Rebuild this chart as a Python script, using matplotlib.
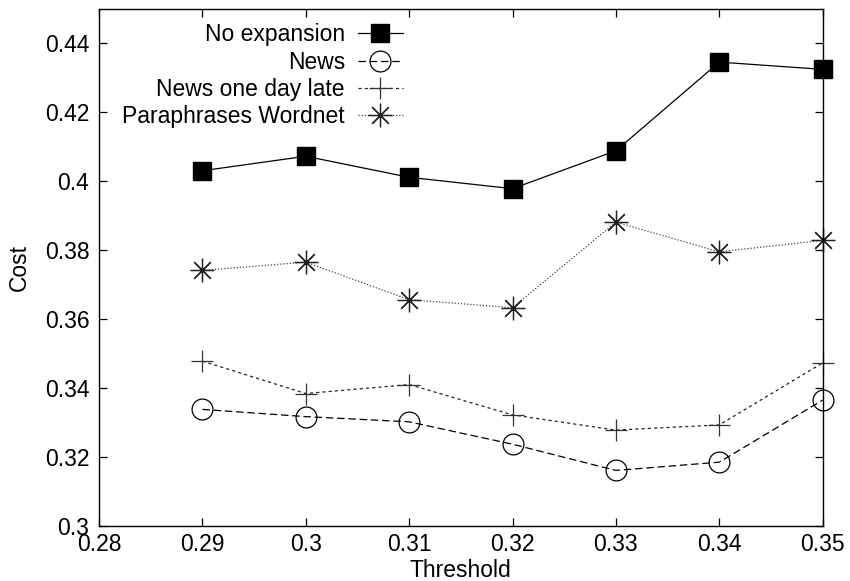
import matplotlib
matplotlib.use("Agg")
import matplotlib.pyplot as plt

plt.rcParams['font.family'] = ['Liberation Sans', 'DejaVu Sans']

thresholds = [0.29, 0.30, 0.31, 0.32, 0.33, 0.34, 0.35]
no_expansion = [0.4031, 0.4073, 0.4012, 0.3979, 0.4089, 0.4346, 0.4325]
news = [0.3339, 0.3318, 0.3303, 0.3238, 0.3162, 0.3186, 0.3366]
news_late = [0.3479, 0.3385, 0.3411, 0.3323, 0.3279, 0.3294, 0.3474]
paraphrases = [0.3742, 0.3766, 0.3657, 0.3634, 0.3882, 0.3796, 0.3829]

xticks = [0.28, 0.29, 0.30, 0.31, 0.32, 0.33, 0.34, 0.35]
xticklabels = ['0.28', '0.29', '0.3', '0.31', '0.32', '0.33', '0.34', '0.35']
yticks = [0.30, 0.32, 0.34, 0.36, 0.38, 0.40, 0.42, 0.44]
yticklabels = ['0.3', '0.32', '0.34', '0.36', '0.38', '0.4', '0.42', '0.44']

FS = 16.5

fig = plt.figure(figsize=(8.5, 5.81), dpi=100)
ax = fig.add_axes([99/850, 54.7/581, 723.7/850, 517.3/581])

ax.plot(thresholds, no_expansion, color='black', lw=0.9, ls='-',
        marker='s', markersize=13, markerfacecolor='black', markeredgecolor='black',
        label='No expansion', clip_on=False)
ax.plot(thresholds, news, color='black', lw=0.9, ls=(0, (6, 3)),
        marker='o', markersize=15, markerfacecolor='none', markeredgecolor='black',
        markeredgewidth=0.9, label='News', clip_on=False)
ax.plot(thresholds, news_late, color='#222222', lw=0.9, ls=(0, (2.5, 2.5)),
        marker='+', markersize=16, markeredgecolor='#333333', markeredgewidth=0.9,
        label='News one day late', clip_on=False)
ax.plot(thresholds, paraphrases, color='#444444', lw=0.9, ls=(0, (1, 1.5)),
        marker=(8, 2, 0), markersize=17, markeredgecolor='#222222', markeredgewidth=0.9,
        label='Paraphrases Wordnet', clip_on=False)

ax.set_xlim(0.28, 0.35)
ax.set_ylim(0.30, 0.45)
ax.set_xticks(xticks)
ax.set_xticklabels(xticklabels)
ax.set_yticks(yticks)
ax.set_yticklabels(yticklabels)
ax.tick_params(direction='in', top=True, right=True, length=6, width=0.9,
               labelsize=FS)
ax.tick_params(axis='y', pad=7)
ax.tick_params(axis='x', pad=5)
for s in ax.spines.values():
    s.set_linewidth(1.0)

ax.set_xlabel('Threshold', fontsize=FS, labelpad=2)
ax.set_ylabel('Cost', fontsize=FS)
ax.yaxis.set_label_coords(-68/723.7, 0.5)

leg = ax.legend(loc='upper right', bbox_to_anchor=(0.42, 0.972), frameon=False,
                markerfirst=False, fontsize=FS, handlelength=1.96, handletextpad=0.57,
                labelspacing=0.18, borderpad=0, borderaxespad=0)

fig.savefig('out.png', dpi=100)
